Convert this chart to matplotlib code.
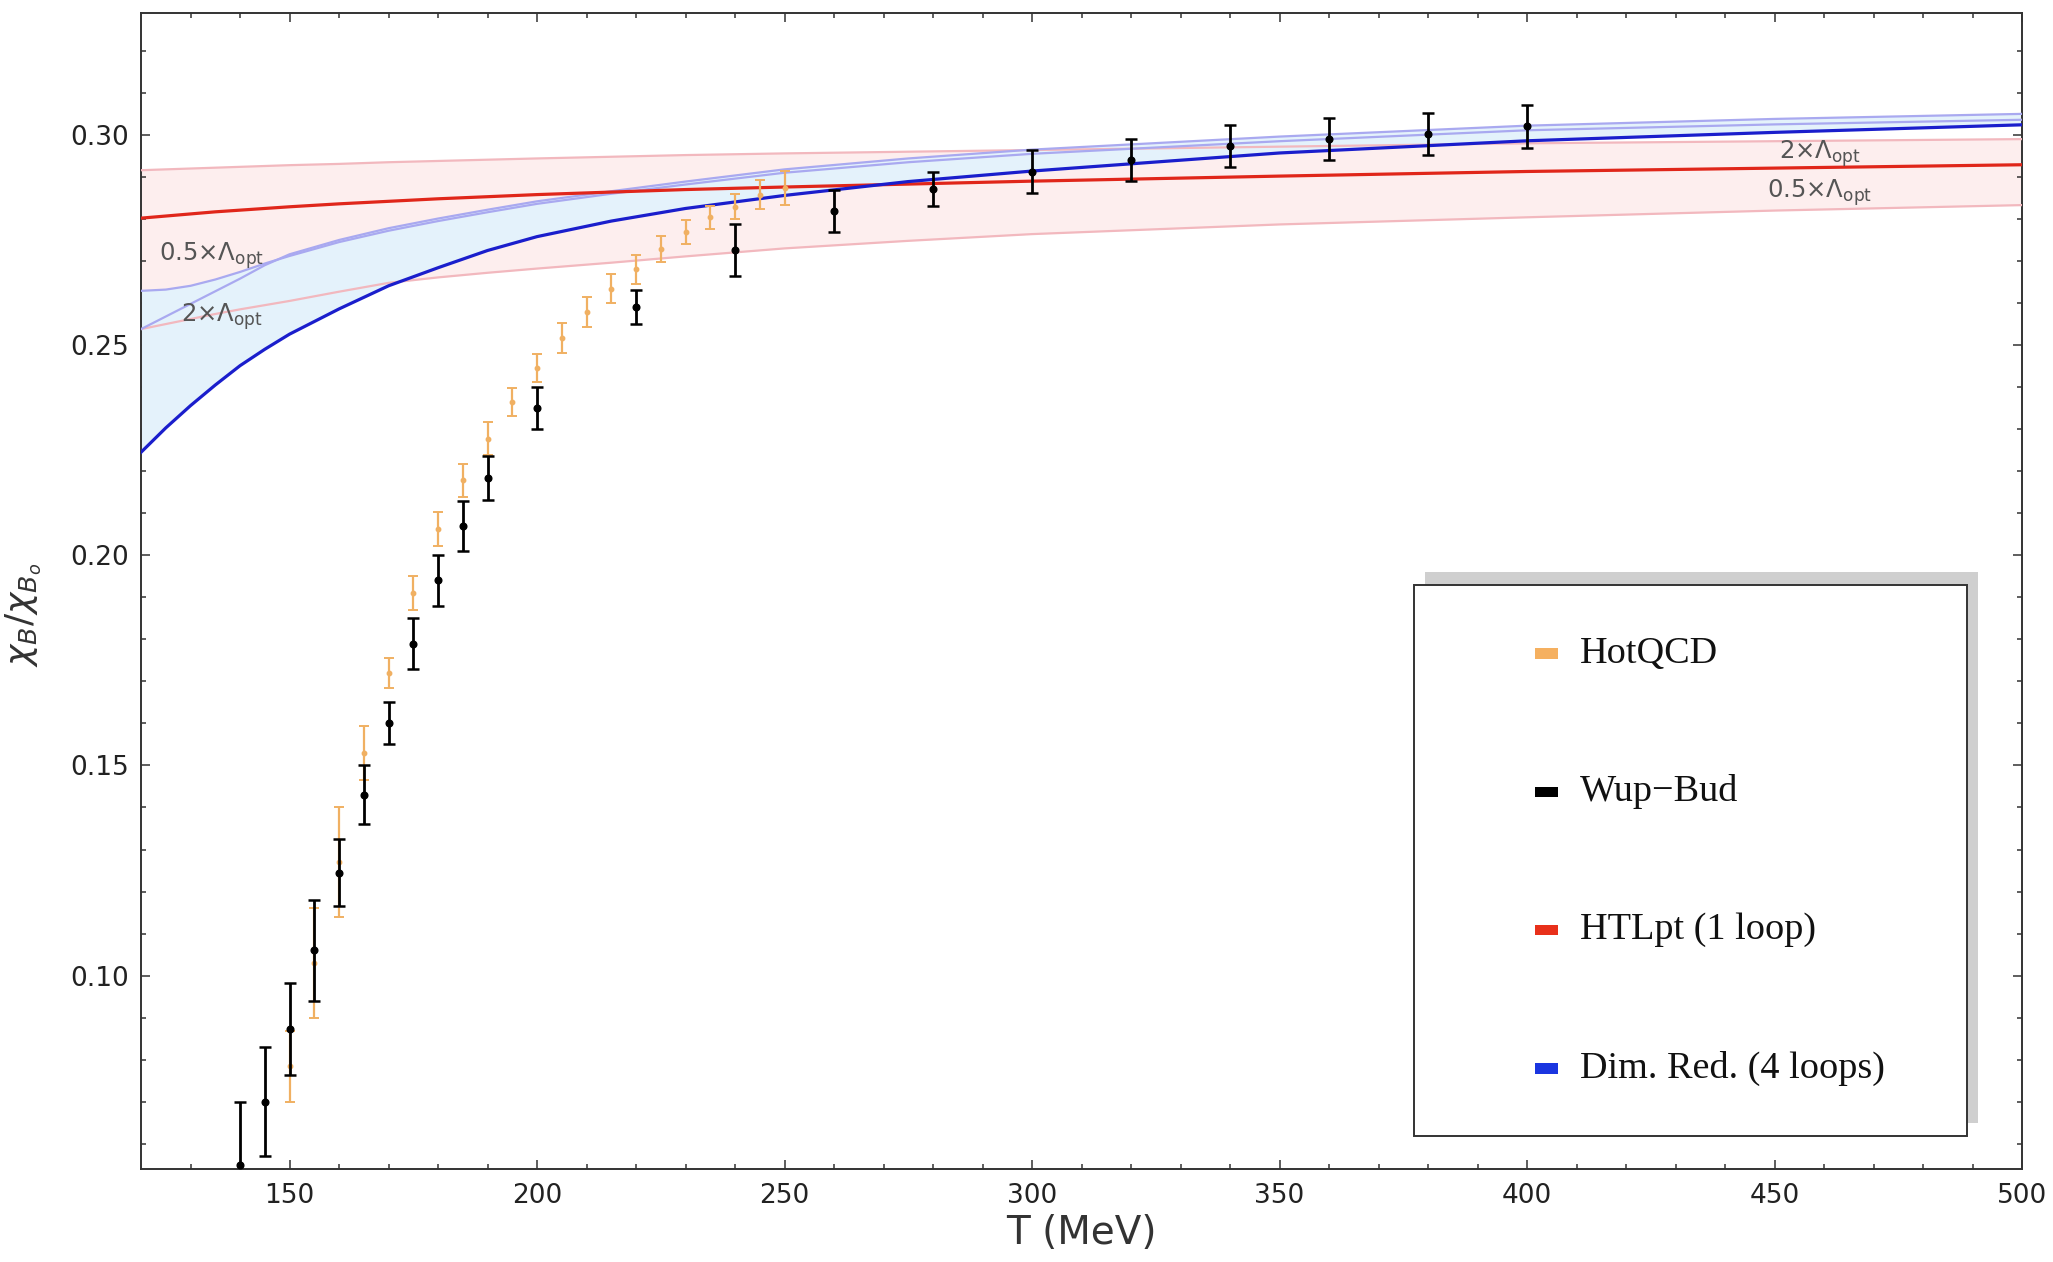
import numpy as np
import matplotlib
matplotlib.use("Agg")
import matplotlib.pyplot as plt
from matplotlib.patches import Rectangle

# lattice data: HotQCD
hot_T = [150, 155, 160, 165, 170, 175, 180, 185, 190, 195, 200,
         205, 210, 215, 220, 225, 230, 235, 240, 245, 250]
hot_v = [0.0784, 0.1030, 0.1270, 0.1530, 0.1720, 0.1910, 0.2062, 0.2178, 0.2277, 0.2365, 0.2445,
         0.2517, 0.2579, 0.2634, 0.2680, 0.2729, 0.2769, 0.2804, 0.2829, 0.2858, 0.2874]
hot_err = [0.0084, 0.0130, 0.0130, 0.0065, 0.0036, 0.0040, 0.0040, 0.0040, 0.0039, 0.0033, 0.0033,
           0.0035, 0.0035, 0.0035, 0.0034, 0.0031, 0.0029, 0.0027, 0.0030, 0.0034, 0.0041]

# lattice data: Wuppertal-Budapest
wb_T = [140, 145, 150, 155, 160, 165, 170, 175, 180, 185, 190,
        200, 220, 240, 260, 280, 300, 320, 340, 360, 380, 400]
wb_v = [0.0550, 0.0700, 0.0873, 0.1060, 0.1245, 0.1430, 0.1600, 0.1790, 0.1940, 0.2070, 0.2184,
        0.2350, 0.2590, 0.2727, 0.2819, 0.2872, 0.2912, 0.2940, 0.2973, 0.2991, 0.3003, 0.3020]
wb_err = [0.0150, 0.0130, 0.0110, 0.0120, 0.0080, 0.0070, 0.0050, 0.0060, 0.0060, 0.0060, 0.0053,
          0.0050, 0.0040, 0.0062, 0.0050, 0.0040, 0.0051, 0.0050, 0.0050, 0.0050, 0.0050, 0.0050]

# theory curves, common temperature grid
curve_T = [120, 125, 130, 135, 140, 145, 150, 160, 170, 180, 190,
           200, 215, 230, 250, 275, 300, 350, 400, 450, 500]
htl_mid = [0.2802, 0.2807, 0.2812, 0.2817, 0.2821, 0.2825, 0.2829, 0.2836, 0.2842, 0.2848, 0.2853,
           0.2858, 0.2864, 0.2870, 0.2876, 0.2883, 0.2890, 0.2902, 0.2913, 0.2921, 0.2929]
htl_hi = [0.2916, 0.2918, 0.2920, 0.2922, 0.2924, 0.2926, 0.2928, 0.2931, 0.2935, 0.2938, 0.2941,
          0.2944, 0.2948, 0.2952, 0.2956, 0.2960, 0.2964, 0.2972, 0.2980, 0.2985, 0.2990]
htl_lo = [0.2538, 0.2550, 0.2562, 0.2574, 0.2585, 0.2595, 0.2605, 0.2627, 0.2648, 0.2661, 0.2672,
          0.2682, 0.2696, 0.2711, 0.2730, 0.2748, 0.2764, 0.2787, 0.2804, 0.2820, 0.2833]
dr_mid = [0.2245, 0.2303, 0.2356, 0.2405, 0.2451, 0.2490, 0.2526, 0.2586, 0.2641, 0.2684, 0.2725,
          0.2758, 0.2795, 0.2825, 0.2856, 0.2889, 0.2914, 0.2957, 0.2986, 0.3006, 0.3024]
dr_half = [0.2629, 0.2632, 0.2641, 0.2656, 0.2674, 0.2694, 0.2712, 0.2745, 0.2772, 0.2795, 0.2816,
           0.2836, 0.2860, 0.2882, 0.2910, 0.2935, 0.2955, 0.2985, 0.3011, 0.3025, 0.3036]
dr_two = [0.2538, 0.2568, 0.2598, 0.2628, 0.2658, 0.2690, 0.2716, 0.2750, 0.2778, 0.2801, 0.2822,
          0.2842, 0.2866, 0.2889, 0.2918, 0.2944, 0.2965, 0.2996, 0.3022, 0.3038, 0.3050]

legend_labels = ["HotQCD", "Wup\u2212Bud", "HTLpt (1 loop)", "Dim. Red. (4 loops)"]
legend_colors = ["#f5b060", "#000000", "#e8301a", "#1a35e0"]

fig = plt.figure(figsize=(20.53, 12.62), dpi=100)
ax = fig.add_axes([0.0687, 0.0737, 0.9162, 0.9160])

# bands
ax.fill_between(curve_T, htl_lo, htl_hi, color="#fdeeee", lw=0, zorder=1)
dr_top = np.maximum(dr_half, dr_two)
ax.fill_between(curve_T, dr_mid, dr_top, color="#e4f2fb", lw=0, zorder=2)

# band edges
ax.plot(curve_T, htl_hi, color="#f2b8be", lw=1.6, zorder=3)
ax.plot(curve_T, htl_lo, color="#f2b8be", lw=1.6, zorder=3)
ax.plot(curve_T, dr_half, color="#a9a9f0", lw=1.6, zorder=3)
ax.plot(curve_T, dr_two, color="#a9a9f0", lw=1.6, zorder=3)

# central curves
ax.plot(curve_T, htl_mid, color="#e0261a", lw=2.3, zorder=4)
ax.plot(curve_T, dr_mid, color="#1a1ecc", lw=2.3, zorder=4)

# lattice points
ax.errorbar(hot_T, hot_v, yerr=hot_err, fmt="o", ms=3.2, color="#f0b062",
            elinewidth=1.6, capsize=3.5, capthick=1.4, zorder=5)
ax.errorbar(wb_T, wb_v, yerr=wb_err, fmt="o", ms=4.8, color="black",
            elinewidth=2.0, capsize=4, capthick=1.8, zorder=6)

# band annotations
lab_kw = dict(fontsize=17.5, color="#555555", va="center", ha="left", zorder=7)
ax.text(123.6, 0.2713, "0.5\u00d7\u039b$_{\\mathrm{opt}}$", **lab_kw)
ax.text(128.0, 0.2567, "2\u00d7\u039b$_{\\mathrm{opt}}$", **lab_kw)
ax.text(451.0, 0.2956, "2\u00d7\u039b$_{\\mathrm{opt}}$", **lab_kw)
ax.text(448.5, 0.2863, "0.5\u00d7\u039b$_{\\mathrm{opt}}$", **lab_kw)

ax.set_xlim(120, 500)
ax.set_ylim(0.054, 0.329)
ax.set_xticks([150, 200, 250, 300, 350, 400, 450, 500])
ax.set_xticks(np.arange(130, 500, 10), minor=True)
ax.set_yticks([0.10, 0.15, 0.20, 0.25, 0.30])
ax.set_yticklabels(["0.10", "0.15", "0.20", "0.25", "0.30"])
ax.set_yticks(np.arange(0.06, 0.33, 0.01), minor=True)
ax.tick_params(which="both", direction="in", top=True, right=True,
               color="#333333", width=1.1, labelsize=19, labelcolor="#222222")
ax.tick_params(which="major", length=6.5)
ax.tick_params(which="minor", length=3.5)
ax.tick_params(axis="x", pad=10)
ax.tick_params(axis="y", pad=9)
for s in ax.spines.values():
    s.set_color("#333333")
    s.set_linewidth(1.4)

ax.set_xlabel("T (MeV)", fontsize=28, color="#333333", labelpad=4)
ax.set_ylabel("$\\chi_B/\\chi_{B_o}$", fontsize=26, color="#333333")
ax.yaxis.set_label_coords(-0.052, 0.479)

# legend box with shadow
x0, x1, y0, y1 = 0.677, 0.971, 0.0285, 0.505
ax.add_patch(Rectangle((x0 + 0.0056, y0 + 0.0112), x1 - x0, y1 - y0,
                       transform=ax.transAxes, facecolor="#cfcfcf", edgecolor="none", zorder=8))
ax.add_patch(Rectangle((x0, y0), x1 - x0, y1 - y0, transform=ax.transAxes,
                       facecolor="white", edgecolor="#333333", lw=1.4, zorder=9))
for i, (lab, col) in enumerate(zip(legend_labels, legend_colors)):
    yy = 0.446 - i * 0.1197
    ax.add_patch(Rectangle((0.7411, yy - 0.0045), 0.0122, 0.009, transform=ax.transAxes,
                           facecolor=col, edgecolor="none", zorder=10))
    ax.text(0.765, yy, lab, transform=ax.transAxes, fontsize=27.5, family="Liberation Serif",
            color="#111111", va="center", ha="left", zorder=10)

fig.savefig("out.png", dpi=100)
